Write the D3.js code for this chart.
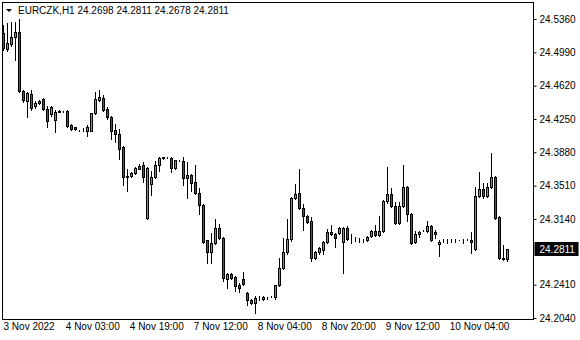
<!DOCTYPE html>
<html>
<head>
<meta charset="utf-8">
<script src="https://cdn.jsdelivr.net/npm/d3@7"></script>
<style>
  body { margin: 0; background: #fff; }
  svg { display: block; font-family: "Liberation Sans", Arial, sans-serif; font-size: 10px; }
</style>
</head>
<body>
<svg id="chart" width="580" height="340"></svg>
<script>
const symbol = 'EURCZK,H1';
const lastPrice = 24.2811;

// H1 bars, oldest first
const opens = [
  24.5204, 24.5026, 24.5082, 24.5160, 24.5215, 24.4558, 24.4446, 24.4524, 24.4391, 24.4424,
  24.4469, 24.4357, 24.4301, 24.4235, 24.4330, 24.4335, 24.4335, 24.4179, 24.4157, 24.4126,
  24.4123, 24.4112, 24.4112, 24.4313, 24.4457, 24.4480, 24.4357, 24.4268, 24.4123, 24.4079,
  24.3934, 24.3611, 24.3622, 24.3655, 24.3700, 24.3744, 24.3154, 24.3533, 24.3611, 24.3744,
  24.3822, 24.3822, 24.3822, 24.3711, 24.3789, 24.3778, 24.3599, 24.3633, 24.3555, 24.3432,
  24.3299, 24.2908, 24.2775, 24.2875, 24.3042, 24.2931, 24.2474, 24.2530, 24.2496, 24.2407,
  24.2474, 24.2318, 24.2240, 24.2206, 24.2262, 24.2251, 24.2273, 24.2284, 24.2273, 24.2407,
  24.2596, 24.2775, 24.2919, 24.3377, 24.3432, 24.3265, 24.3176, 24.3120, 24.2707, 24.2775,
  24.2797, 24.2886, 24.2997, 24.2975, 24.2986, 24.2886, 24.3042, 24.2931, 24.2919, 24.2908,
  24.2908, 24.2908, 24.2953, 24.3009, 24.2964, 24.3009, 24.3343, 24.3421, 24.3288, 24.3098,
  24.3288, 24.3499, 24.3198, 24.2886, 24.2975, 24.3009, 24.3009, 24.3064, 24.2997, 24.2864,
  24.2908, 24.2908, 24.2908, 24.2911, 24.2908, 24.2908, 24.2911, 24.2908, 24.2809, 24.3399,
  24.3477, 24.3399, 24.3499, 24.3611, 24.3165, 24.2707, 24.2698
];
const highs = [
  24.5293, 24.5316, 24.5327, 24.5327, 24.5360, 24.4569, 24.4547, 24.4569, 24.4446, 24.4457,
  24.4480, 24.4391, 24.4391, 24.4346, 24.4346, 24.4338, 24.4346, 24.4190, 24.4157, 24.4130,
  24.4145, 24.4179, 24.4313, 24.4547, 24.4569, 24.4513, 24.4379, 24.4279, 24.4190, 24.4134,
  24.3945, 24.3689, 24.3666, 24.3722, 24.3755, 24.3767, 24.3722, 24.3677, 24.3778, 24.3833,
  24.3833, 24.3825, 24.3825, 24.3789, 24.3792, 24.3833, 24.3767, 24.3644, 24.3744, 24.3488,
  24.3310, 24.2908, 24.2986, 24.3142, 24.3087, 24.2942, 24.2541, 24.2541, 24.2507, 24.2429,
  24.2552, 24.2329, 24.2251, 24.2284, 24.2284, 24.2284, 24.2276, 24.2287, 24.2407, 24.2707,
  24.2931, 24.3142, 24.3388, 24.3533, 24.3700, 24.3310, 24.3187, 24.3165, 24.2786, 24.2830,
  24.2897, 24.3031, 24.3077, 24.2986, 24.3053, 24.3053, 24.3064, 24.2975, 24.2942, 24.2931,
  24.2919, 24.2953, 24.3020, 24.3077, 24.3176, 24.3355, 24.3722, 24.3488, 24.3332, 24.3332,
  24.3744, 24.3510, 24.3209, 24.3009, 24.3009, 24.3012, 24.3120, 24.3077, 24.3020, 24.2908,
  24.2919, 24.2919, 24.2919, 24.2919, 24.2911, 24.2919, 24.2914, 24.2997, 24.3499, 24.3666,
  24.3544, 24.3544, 24.3867, 24.3622, 24.3176, 24.2852, 24.2811
];
const lows = [
  24.5015, 24.5004, 24.5059, 24.4903, 24.4547, 24.4435, 24.4268, 24.4346, 24.4368, 24.4413,
  24.4346, 24.4157, 24.4279, 24.4101, 24.4324, 24.4330, 24.4157, 24.4123, 24.4123, 24.4120,
  24.4118, 24.4056, 24.4112, 24.4301, 24.4446, 24.4335, 24.4246, 24.4023, 24.3989, 24.3800,
  24.3522, 24.3455, 24.3611, 24.3644, 24.3689, 24.3555, 24.3142, 24.3410, 24.3599, 24.3677,
  24.3811, 24.3819, 24.3666, 24.3700, 24.3786, 24.3522, 24.3377, 24.3455, 24.3421, 24.3198,
  24.2875, 24.2652, 24.2652, 24.2864, 24.2919, 24.2452, 24.2374, 24.2474, 24.2340, 24.2329,
  24.2407, 24.2184, 24.2195, 24.2095, 24.2240, 24.2240, 24.2251, 24.2273, 24.2251, 24.2396,
  24.2585, 24.2752, 24.2897, 24.3366, 24.3254, 24.3020, 24.3098, 24.2674, 24.2696, 24.2752,
  24.2752, 24.2875, 24.2964, 24.2830, 24.2975, 24.2541, 24.2908, 24.2875, 24.2897, 24.2886,
  24.2886, 24.2897, 24.2942, 24.2953, 24.2953, 24.2997, 24.3321, 24.3276, 24.3087, 24.3087,
  24.3276, 24.3120, 24.2864, 24.2875, 24.2942, 24.3006, 24.2997, 24.2897, 24.2931, 24.2730,
  24.2886, 24.2875, 24.2886, 24.2886, 24.2905, 24.2875, 24.2905, 24.2763, 24.2797, 24.3388,
  24.3377, 24.3388, 24.3488, 24.3142, 24.2696, 24.2685, 24.2678
];
const closes = [
  24.5037, 24.5093, 24.5160, 24.5215, 24.4558, 24.4457, 24.4535, 24.4368, 24.4424, 24.4446,
  24.4357, 24.4223, 24.4379, 24.4324, 24.4335, 24.4335, 24.4168, 24.4134, 24.4134, 24.4123,
  24.4126, 24.4157, 24.4313, 24.4469, 24.4491, 24.4346, 24.4268, 24.4112, 24.4079, 24.3922,
  24.3611, 24.3614, 24.3655, 24.3711, 24.3733, 24.3611, 24.3711, 24.3611, 24.3744, 24.3822,
  24.3825, 24.3822, 24.3711, 24.3789, 24.3789, 24.3599, 24.3633, 24.3544, 24.3432, 24.3299,
  24.2886, 24.2775, 24.2875, 24.3042, 24.2931, 24.2485, 24.2530, 24.2485, 24.2396, 24.2374,
  24.2418, 24.2240, 24.2206, 24.2262, 24.2265, 24.2273, 24.2273, 24.2284, 24.2407, 24.2596,
  24.2775, 24.2919, 24.3377, 24.3421, 24.3265, 24.3176, 24.3109, 24.2707, 24.2775, 24.2819,
  24.2886, 24.2997, 24.2975, 24.2931, 24.3042, 24.3042, 24.2919, 24.2928, 24.2916, 24.2911,
  24.2911, 24.2942, 24.3009, 24.2964, 24.3009, 24.3343, 24.3421, 24.3288, 24.3098, 24.3288,
  24.3499, 24.3198, 24.2875, 24.2975, 24.2997, 24.3009, 24.3064, 24.2908, 24.2975, 24.2886,
  24.2911, 24.2905, 24.2911, 24.2908, 24.2908, 24.2911, 24.2911, 24.2886, 24.3399, 24.3477,
  24.3399, 24.3499, 24.3611, 24.3154, 24.2707, 24.2700, 24.2811
];

const timeTickBars = [0, 15, 31, 47, 63, 79, 95, 111];
const timeTickLabels = ['3 Nov 2022', '4 Nov 03:00', '4 Nov 19:00', '7 Nov 12:00',
  '8 Nov 04:00', '8 Nov 20:00', '9 Nov 12:00', '10 Nov 04:00'];
// the 24.2780 level sits under the current-price box, so it is left out
const priceTicks = [24.5360, 24.4990, 24.4620, 24.4250, 24.3880, 24.3510, 24.3140,
  24.2410, 24.2040];

const frame = { left: 2.5, top: 2.5, right: 533.5, bottom: 319.5 };
const bullColor = '#32c832';
const bearColor = '#e81414';

const svg = d3.select('#chart');

const x = d3.scaleLinear()
  .domain([0, opens.length - 1])
  .range([3.3, 3.3 + 4 * (opens.length - 1)]);

const y = d3.scaleLinear()
  .domain([24.2040, 24.5360])
  .range([318, 19]);

svg.append('clipPath')
    .attr('id', 'plotClip')
  .append('rect')
    .attr('x', frame.left)
    .attr('y', frame.top)
    .attr('width', frame.right - frame.left)
    .attr('height', frame.bottom - frame.top);

const plot = svg
  .append('g')
    .attr('clip-path', 'url(#plotClip)');

const bars = opens.map((o, i) => ({ i, o, h: highs[i], l: lows[i], c: closes[i] }));

const candle = plot.selectAll('.candle')
  .data(bars)
  .enter()
  .append('g')
    .attr('class', 'candle');

// wicks
candle
  .append('line')
    .attr('x1', d => Math.round(x(d.i)) + 0.5)
    .attr('x2', d => Math.round(x(d.i)) + 0.5)
    .attr('y1', d => Math.round(y(d.h)))
    .attr('y2', d => Math.round(y(d.l)) + 1)
    .attr('stroke', '#000')
    .attr('stroke-width', 1);

// bodies
candle
  .append('rect')
    .attr('x', d => Math.round(x(d.i)) - 0.5)
    .attr('y', d => Math.round(y(Math.max(d.o, d.c))) + 0.5)
    .attr('width', 2)
    .attr('height', d => Math.round(y(Math.min(d.o, d.c))) - Math.round(y(Math.max(d.o, d.c))))
    .attr('fill', d => (d.c >= d.o ? bullColor : bearColor))
    .attr('stroke', '#000')
    .attr('stroke-width', 1);

// frame
svg
  .append('rect')
    .attr('x', frame.left)
    .attr('y', frame.top)
    .attr('width', frame.right - frame.left)
    .attr('height', frame.bottom - frame.top)
    .attr('fill', 'none')
    .attr('stroke', '#000');

// price axis
const yAxis = svg
  .append('g')
    .attr('transform', `translate(${frame.right},0)`)
    .call(d3.axisRight(y)
      .tickValues(priceTicks)
      .tickSize(3)
      .tickPadding(3)
      .tickFormat(d3.format('.4f')));
yAxis.select('.domain').remove();
yAxis.selectAll('text')
    .attr('fill', '#000')
    .style('font-size', '10px')
    .style('font-family', '"Liberation Sans", Arial, sans-serif');

// time axis
const xAxis = svg
  .append('g')
    .attr('transform', `translate(0,${frame.bottom})`)
    .call(d3.axisBottom(x)
      .tickValues(timeTickBars)
      .tickSize(0)
      .tickFormat((d, i) => timeTickLabels[i]));
xAxis.select('.domain').remove();
xAxis.selectAll('text')
    .attr('text-anchor', 'start')
    .attr('x', (d, i) => (i === 0 ? -0.3 : 2))
    .attr('y', 3)
    .attr('fill', '#000')
    .style('font-size', '10px')
    .style('font-family', '"Liberation Sans", Arial, sans-serif');

// current price label
const lastY = Math.round(y(lastPrice));
svg
  .append('rect')
    .attr('x', frame.right + 1)
    .attr('y', lastY - 7)
    .attr('width', 44)
    .attr('height', 14)
    .attr('fill', '#000');
svg
  .append('text')
    .attr('x', frame.right + 6)
    .attr('y', lastY)
    .attr('dy', '0.35em')
    .attr('fill', '#fff')
    .text(d3.format('.4f')(lastPrice));

// header
svg
  .append('path')
    .attr('d', 'M6,9 L12,9 L9,12 Z')
    .attr('fill', '#000');
const last = bars[bars.length - 1];
svg
  .append('text')
    .attr('x', 18)
    .attr('y', 14)
    .attr('fill', '#000')
    .text(`${symbol}  ${[last.o, last.h, last.l, last.c].map(d3.format('.4f')).join(' ')}`);
</script>
</body>
</html>
